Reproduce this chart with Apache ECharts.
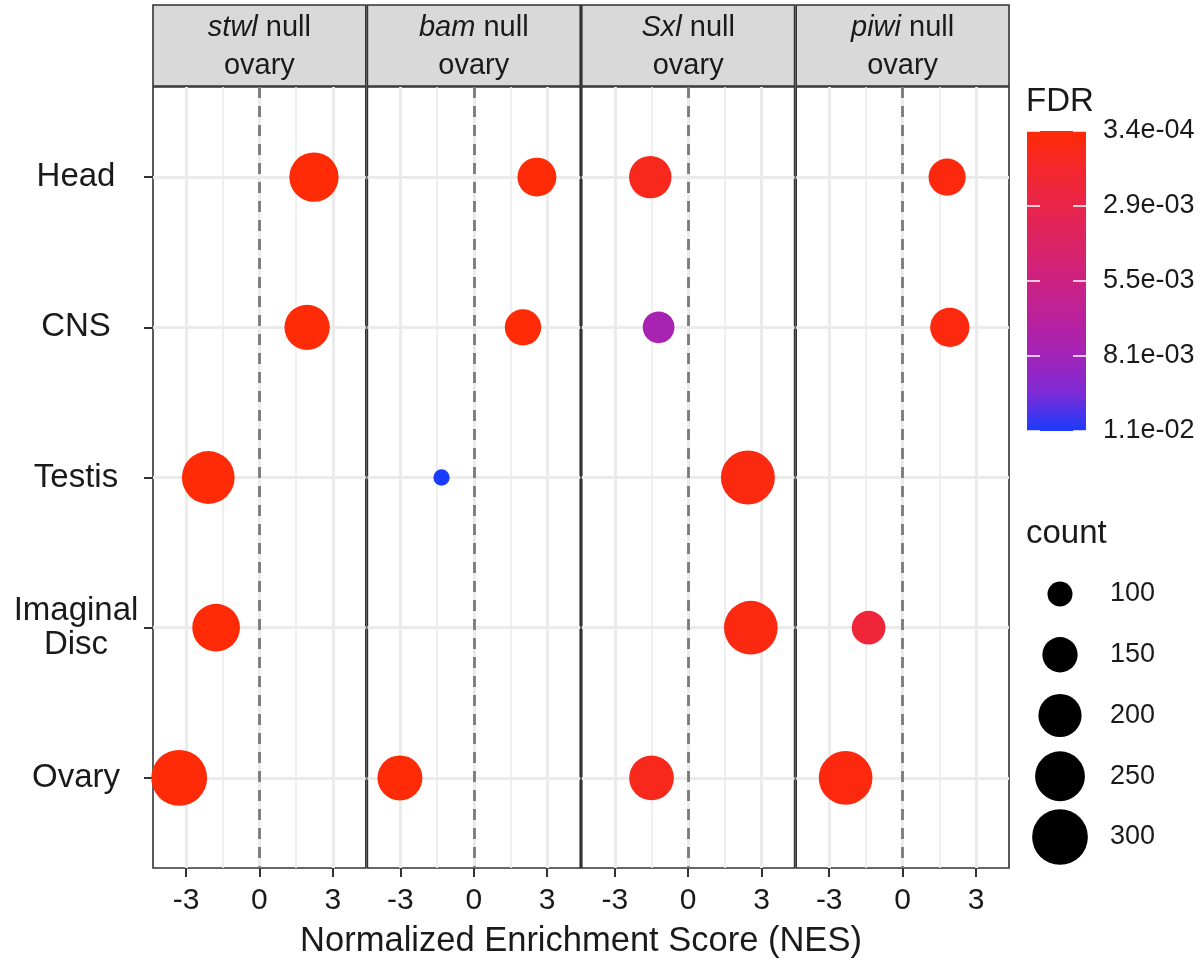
<!DOCTYPE html>
<html>
<head>
<meta charset="utf-8">
<script src="https://cdn.jsdelivr.net/npm/echarts@6/dist/echarts.min.js"></script>
<style>
  html, body { margin: 0; padding: 0; background: #fff; }
  #chart { width: 1203px; height: 961px; }
</style>
</head>
<body>
<div id="chart"></div>
<script>
// facets (genotype in italics) and rows
const facetNames = ['stwl', 'bam', 'Sxl', 'piwi'];
const tissues = ['Head', 'CNS', 'Testis', 'Imaginal\nDisc', 'Ovary'];

// one row per facet, values in tissue order, null = no point
const nesByFacet = [
  [2.23, 1.95, -2.09, -1.77, -3.28],
  [2.58, 2.01, -1.32, null, -3.02],
  [-1.55, -1.21, 2.44, 2.56, -1.50],
  [1.82, 1.93, null, -1.39, -2.33]
];
const countByFacet = [
  [246, 215, 274, 233, 302],
  [172, 156, 71, null, 213],
  [195, 131, 285, 282, 211],
  [161, 174, null, 141, 282]
];
const fdrByFacet = [
  [3.4e-4, 3.4e-4, 3.4e-4, 3.4e-4, 3.4e-4],
  [3.4e-4, 3.4e-4, 1.07e-2, null, 3.4e-4],
  [1.1e-3, 7.8e-3, 7e-4, 7e-4, 1.1e-3],
  [6e-4, 6e-4, null, 2.2e-3, 6e-4]
];

// axes / legends
const xTicks = [-3, 0, 3];
const xMinor = [-1.5, 1.5];
const fdrMin = 3.4e-4;
const fdrMax = 1.07e-2;
const fdrBreakLabels = ['3.4e-04', '2.9e-03', '5.5e-03', '8.1e-03', '1.1e-02'];
const countBreaks = [100, 150, 200, 250, 300];
// low FDR -> high FDR
const fdrColors = ['#ff2a06', '#f5272c', '#e8254a', '#db2366', '#cc2182',
                   '#ba219d', '#a223b8', '#7d2bd6', '#1a3cff'];

// layout
const FONT = 'Liberation Sans, Arial, Helvetica, sans-serif';
const TXT = '#1a1a1a';
const PANEL_LEFT = 153, PANEL_TOP = 87, PANEL_W = 212.8, PANEL_H = 781, PANEL_GAP = 1.6;
const STRIP_TOP = 5, STRIP_H = 81;
const GRID_COL = '#ebebeb';

function panelLeft(i) {
  return PANEL_LEFT + i * (PANEL_W + PANEL_GAP);
}
// point diameter from gene count (area ~ count)
function sizeOf(c) {
  return Math.sqrt(625 + 12.4 * (c - 100));
}

const chart = echarts.init(document.getElementById('chart'));

let grids = [], xAxes = [], yAxes = [], series = [], graphics = [];

facetNames.forEach(function(name, i) {
  grids.push({
    left: panelLeft(i), top: PANEL_TOP, width: PANEL_W, height: PANEL_H,
    show: true, backgroundColor: '#fff', borderColor: '#333', borderWidth: 1.6
  });
  // major ticks + labels
  xAxes.push({
    gridIndex: i, type: 'value', min: -4.35, max: 4.35, position: 'bottom',
    axisLine: { show: false, onZero: false },
    axisTick: { customValues: xTicks, length: 9, lineStyle: { color: '#333', width: 2 } },
    axisLabel: { customValues: xTicks, fontSize: 30, fontFamily: FONT, color: TXT, margin: 18 },
    splitLine: { show: true, lineStyle: { color: GRID_COL, width: 3 } },
    z: 1
  });
  // minor grid lines only
  xAxes.push({
    gridIndex: i, type: 'value', min: -4.35, max: 4.35, position: 'top',
    axisLine: { show: false, onZero: false },
    axisTick: { show: false, customValues: xMinor },
    axisLabel: { show: false },
    splitLine: { show: true, lineStyle: { color: GRID_COL, width: 1.6 } },
    z: 1
  });
  yAxes.push({
    gridIndex: i, type: 'value', min: 0.4, max: 5.6, inverse: true, position: 'left',
    axisLine: { show: false, onZero: false },
    axisTick: { show: i === 0, customValues: [1, 2, 3, 4, 5], length: 9,
                lineStyle: { color: '#333', width: 2 } },
    axisLabel: {
      show: i === 0, customValues: [1, 2, 3, 4, 5],
      formatter: function(v) { return tissues[v - 1]; },
      align: 'center', margin: 77, fontSize: 33, lineHeight: 34,
      fontFamily: FONT, color: TXT
    },
    splitLine: { show: true, lineStyle: { color: GRID_COL, width: 3 } },
    z: 1
  });

  let data = [];
  nesByFacet[i].forEach(function(v, k) {
    if (v !== null) data.push([v, k + 1, countByFacet[i][k], fdrByFacet[i][k]]);
  });
  series.push({
    type: 'scatter', xAxisIndex: 2 * i, yAxisIndex: i, data: data,
    symbol: 'circle',
    symbolSize: function(d) { return sizeOf(d[2]); },
    itemStyle: { opacity: 1 },
    markLine: {
      silent: true, symbol: ['none', 'none'], label: { show: false },
      lineStyle: { type: [11, 8], color: '#7a7a7a', width: 2.8 },
      data: [{ xAxis: 0 }]
    },
    z: 3
  });

  // facet strip
  graphics.push({
    type: 'rect',
    shape: { x: panelLeft(i), y: STRIP_TOP, width: PANEL_W, height: STRIP_H },
    style: { fill: '#d9d9d9', stroke: '#333', lineWidth: 1.6 }
  });
  graphics.push({
    type: 'text',
    x: panelLeft(i) + PANEL_W / 2, y: STRIP_TOP + STRIP_H / 2 + 1,
    style: {
      text: '{it|' + name + '} null\novary',
      align: 'center', verticalAlign: 'middle',
      fontSize: 29, fontFamily: FONT, fill: TXT, lineHeight: 38,
      rich: { it: { fontStyle: 'italic', fontSize: 29, fontFamily: FONT, fill: TXT, lineHeight: 38 } }
    }
  });
});

// colour bar legend (grid 4)
grids.push({ left: 1027, top: 131, width: 59, height: 300 });
xAxes.push({ gridIndex: 4, type: 'category', data: ['FDR'], show: false });
yAxes.push({ gridIndex: 4, type: 'value', min: 0, max: 1, show: false });
yAxes.push({
  gridIndex: 4, type: 'category', data: fdrBreakLabels, boundaryGap: false, inverse: true,
  position: 'left', z: 10,
  axisLine: { show: false },
  axisTick: { show: true, inside: true, length: 13, interval: 0,
              lineStyle: { color: '#ffffff', width: 1.5 } },
  axisLabel: { show: false }, splitLine: { show: false }
});
yAxes.push({
  gridIndex: 4, type: 'category', data: fdrBreakLabels, boundaryGap: false, inverse: true,
  position: 'right', z: 10,
  axisLine: { show: false },
  axisTick: { show: true, inside: true, length: 13, interval: 0,
              lineStyle: { color: '#ffffff', width: 1.5 } },
  axisLabel: { margin: 17, fontSize: 27, fontFamily: FONT, color: TXT },
  splitLine: { show: false }
});
series.push({
  type: 'bar', xAxisIndex: 8, yAxisIndex: 4, data: [1], barWidth: '100%', silent: true,
  itemStyle: {
    color: new echarts.graphic.LinearGradient(0, 0, 0, 1, fdrColors.map(function(c, k) {
      return { offset: k / (fdrColors.length - 1), color: c };
    }))
  },
  z: -1
});

// size legend (grid 5)
grids.push({ left: 1035, top: 594, width: 50, height: 243 });
xAxes.push({ gridIndex: 5, type: 'value', min: 0, max: 1, show: false });
yAxes.push({
  gridIndex: 5, type: 'category', data: countBreaks.map(String), boundaryGap: false, inverse: true,
  position: 'right',
  axisLine: { show: false }, axisTick: { show: false },
  axisLabel: { margin: 25, fontSize: 27, fontFamily: FONT, color: TXT },
  splitLine: { show: false }
});
series.push({
  type: 'scatter', xAxisIndex: 9, yAxisIndex: 7, silent: true,
  data: countBreaks.map(function(c, k) { return [0.5, k, c]; }),
  symbolSize: function(d) { return sizeOf(d[2]); },
  itemStyle: { color: '#000', opacity: 1 }
});

// x axis title
graphics.push({
  type: 'text', x: PANEL_LEFT + (4 * PANEL_W + 3 * PANEL_GAP) / 2, y: 941,
  style: {
    text: 'Normalized Enrichment Score (NES)', align: 'center', verticalAlign: 'middle',
    fontSize: 34.5, fontFamily: FONT, fill: TXT
  }
});

chart.setOption({
  animation: false,
  backgroundColor: '#fff',
  title: [
    { text: 'FDR', left: 1026, top: 85, padding: 0,
      textStyle: { fontSize: 33, fontWeight: 'normal', fontFamily: FONT, color: TXT } },
    { text: 'count', left: 1026, top: 517, padding: 0,
      textStyle: { fontSize: 33, fontWeight: 'normal', fontFamily: FONT, color: TXT } }
  ],
  visualMap: {
    type: 'continuous', show: false, min: fdrMin, max: fdrMax, dimension: 3,
    seriesIndex: [0, 1, 2, 3], inRange: { color: fdrColors }
  },
  grid: grids,
  xAxis: xAxes,
  yAxis: yAxes,
  series: series,
  graphic: graphics
});
</script>
</body>
</html>
